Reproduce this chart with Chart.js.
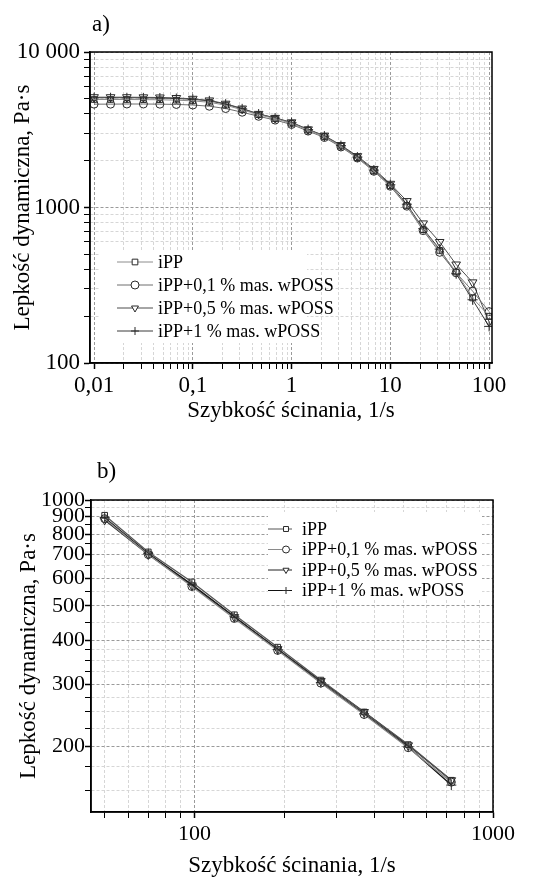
<!DOCTYPE html>
<html lang="pl">
<head>
<meta charset="utf-8">
<title>Lepkość dynamiczna</title>
<script src="https://cdn.jsdelivr.net/npm/chart.js@4/dist/chart.umd.min.js"></script>
<style>
  html, body { margin: 0; padding: 0; background: #fff; }
  #page { position: relative; width: 549px; height: 877px; overflow: hidden; }
  canvas { position: absolute; left: 0; }
  #chartA { top: 0; }
  #chartB { top: 430px; }
  .panel-label {
    position: absolute;
    font-family: 'Liberation Serif', 'Times New Roman', serif;
    font-size: 23px;
    line-height: 23px;
    color: #000;
  }
</style>
</head>
<body>
<div id="page">
  <canvas id="chartA" width="549" height="430"></canvas>
  <canvas id="chartB" width="549" height="447"></canvas>
  <div class="panel-label" style="left:92px; top:12px;">a)</div>
  <div class="panel-label" style="left:97px; top:459px;">b)</div>
</div>
<script>
// ---- dane: wykres a) ----
const seriesNames = ["iPP", "iPP+0,1 % mas. wPOSS", "iPP+0,5 % mas. wPOSS", "iPP+1 % mas. wPOSS"];

const shearA = [0.01, 0.0147, 0.0215, 0.0316, 0.0464, 0.0681, 0.1, 0.147, 0.215, 0.316, 0.464, 0.681,
                1, 1.47, 2.15, 3.16, 4.64, 6.81, 10, 14.7, 21.5, 31.6, 46.4, 68.1, 100];
const ippA  = [4950, 4950, 4950, 4940, 4930, 4900, 4850, 4750, 4550, 4250, 3950, 3730,
               3480, 3150, 2860, 2480, 2090, 1720, 1380, 1030, 720, 530, 385, 262, 200];
const poss01A = [4620, 4620, 4630, 4630, 4620, 4600, 4560, 4480, 4330, 4100, 3860, 3650,
                 3420, 3100, 2820, 2450, 2080, 1710, 1370, 1020, 710, 515, 380, 290, 214];
const poss05A = [5120, 5120, 5120, 5110, 5100, 5060, 5000, 4880, 4650, 4330, 4000, 3770,
                 3530, 3180, 2900, 2520, 2140, 1770, 1420, 1100, 790, 600, 430, 330, 184];
const poss1A  = [5080, 5080, 5080, 5070, 5060, 5020, 4960, 4850, 4620, 4310, 3990, 3760,
                 3510, 3170, 2880, 2500, 2110, 1740, 1400, 1050, 730, 540, 375, 255, 172];

const xTicksA = [0.01, 0.1, 1, 10, 100];
const xLabelsA = ["0,01", "0,1", "1", "10", "100"];
const yTicksA = [100, 1000, 10000];
const yLabelsA = ["100", "1000", "10 000"];

// ---- dane: wykres b) ----
const shearB = [50, 70, 98, 136, 190, 265, 370, 520, 725];
const ippB    = [905, 712, 585, 472, 382, 308, 250, 202, 160];
const poss01B = [885, 700, 568, 461, 374, 302, 246, 198, 158];
const poss05B = [878, 700, 572, 465, 377, 306, 250, 201, 160];
const poss1B  = [890, 705, 575, 466, 376, 303, 247, 199, 155];

const xTicksB = [100, 1000];
const xLabelsB = ["100", "1000"];
const xMinorB = [50, 60, 70, 80, 90, 200, 300, 400, 500, 600, 700, 800, 900];
const yTicksB = [200, 300, 400, 500, 600, 700, 800, 900, 1000];
const yLabelsB = ["200", "300", "400", "500", "600", "700", "800", "900", "1000"];
const yMinorB = [150, 175, 225, 250, 275, 325, 350, 375, 450, 550, 650, 750, 850, 950];

Chart.defaults.font.family = "'Liberation Serif', 'Times New Roman', serif";
Chart.defaults.color = "#000";

// podziałki pośrednie 2..9 w każdej dekadzie
function decadeMinors(majors) {
    const out = [];
    for (let i = 0; i < majors.length - 1; i++) {
        for (let m = 2; m <= 9; m++) out.push(majors[i] * m);
    }
    return out;
}

function isMajor(v, majors) {
    return majors.some(t => Math.abs(v / t - 1) < 1e-6);
}

function logAxis(min, max, majors, labels, minors, o) {
    const all = majors.concat(minors).filter(v => v >= min * 0.999 && v <= max * 1.001).sort((a, b) => a - b);
    return {
        type: "logarithmic",
        min: min,
        max: max,
        afterBuildTicks: scale => { scale.ticks = all.map(v => ({ value: v })); },
        afterFit: scale => {
            if (o.width) scale.width = o.width;
            if (o.height) scale.height = o.height;
        },
        ticks: {
            autoSkip: false,
            maxRotation: 0,
            padding: o.tickPad,
            font: { size: o.tickSize },
            color: "#000",
            callback: v => {
                const i = majors.findIndex(t => Math.abs(v / t - 1) < 1e-6);
                return i >= 0 ? labels[i] : "";
            }
        },
        grid: {
            color: ctx => (ctx.tick && isMajor(ctx.tick.value, majors)) ? "#9a9a9a" : "#d6d6d6",
            lineWidth: 1,
            tickColor: "#000",
            tickLength: 6,
            tickWidth: ctx => (ctx.tick && isMajor(ctx.tick.value, majors)) ? 1.5 : 1
        },
        border: { color: "#000", width: 1.5, dash: [3, 2] },
        title: {
            display: true,
            text: o.title,
            font: { size: 23, lineHeight: 1 },
            color: "#000",
            padding: o.titlePad
        }
    };
}

const frame = {
    id: "frame",
    afterDraw(chart) {
        const { ctx, chartArea: a } = chart;
        ctx.save();
        ctx.strokeStyle = "#000";
        ctx.lineWidth = 1.5;
        ctx.strokeRect(a.left, a.top, a.right - a.left, a.bottom - a.top);
        ctx.restore();
    }
};

function boxLegend(cfg) {
    return {
        id: "boxLegend",
        beforeDatasetsDraw(chart) {
            const ctx = chart.ctx;
            ctx.save();
            ctx.fillStyle = "#fff";
            ctx.fillRect(cfg.box[0], cfg.box[1], cfg.box[2], cfg.box[3]);
            ctx.restore();
        },
        afterDatasetsDraw(chart) {
            const ctx = chart.ctx;
            ctx.save();
            chart.data.datasets.forEach((ds, i) => {
                const y = cfg.y + i * cfg.step;
                ctx.strokeStyle = ds.borderColor;
                ctx.lineWidth = 1;
                ctx.setLineDash([]);
                ctx.beginPath();
                ctx.moveTo(cfg.lineX0, y);
                ctx.lineTo(cfg.lineX1, y);
                ctx.stroke();
                ctx.strokeStyle = ds.pointBorderColor;
                ctx.fillStyle = "#fff";
                ctx.lineWidth = 1;
                Chart.helpers.drawPoint(ctx, {
                    pointStyle: ds.pointStyle,
                    rotation: ds.pointRotation || 0,
                    radius: cfg.radius,
                    borderWidth: 1
                }, cfg.markX, y);
                ctx.fillStyle = "#000";
                ctx.font = cfg.fontSize + "px 'Liberation Serif', 'Times New Roman', serif";
                ctx.textBaseline = "middle";
                ctx.textAlign = "left";
                ctx.fillText(ds.label, cfg.textX, y + 1);
            });
            ctx.restore();
        }
    };
}

function makeSets(xs, ys, lineColors, width) {
    const styles = ["rect", "circle", "triangle", "cross"];
    const rot = [0, 0, 180, 0];
    const rad = [4, 4, 5, 5];
    return ys.map((vals, i) => ({
        label: seriesNames[i],
        data: vals.map((v, k) => ({ x: xs[k], y: v })),
        borderColor: lineColors[i],
        borderWidth: width,
        pointStyle: styles[i],
        pointRotation: rot[i],
        pointRadius: rad[i],
        pointBorderColor: "#2a2a2a",
        pointBackgroundColor: "rgba(255,255,255,0)",
        pointBorderWidth: 1,
        tension: 0
    }));
}

new Chart(document.getElementById("chartA"), {
    type: "line",
    data: {
        datasets: makeSets(shearA, [ippA, poss01A, poss05A, poss1A],
            ["#8c8c8c", "#6e6e6e", "#4d4d4d", "#3a3a3a"], 1)
    },
    options: {
        responsive: false,
        animation: false,
        devicePixelRatio: 1,
        layout: { padding: { top: 52, right: 57, left: 0, bottom: 0 } },
        plugins: { legend: { display: false }, tooltip: { enabled: false } },
        scales: {
            x: logAxis(0.0091, 107, xTicksA, xLabelsA, decadeMinors(xTicksA),
                { height: 67, tickPad: 3, tickSize: 23, title: "Szybkość ścinania, 1/s", titlePad: { top: 0, bottom: 8 } }),
            y: logAxis(100, 10000, yTicksA, yLabelsA, decadeMinors(yTicksA),
                { width: 90, tickPad: 4, tickSize: 23, title: "Lepkość dynamiczna, Pa·s", titlePad: { top: 11, bottom: 0 } })
        }
    },
    plugins: [frame, boxLegend({
        box: [100, 250, 207, 93], y: 262, step: 23, lineX0: 117, lineX1: 153, markX: 135,
        textX: 158, radius: 4, fontSize: 18
    })]
});

new Chart(document.getElementById("chartB"), {
    type: "line",
    data: {
        datasets: makeSets(shearB, [ippB, poss01B, poss05B, poss1B],
            ["#555555", "#8a8a8a", "#222222", "#111111"], 1.3)
    },
    options: {
        responsive: false,
        animation: false,
        devicePixelRatio: 1,
        layout: { padding: { top: 70, right: 56, left: 0, bottom: 0 } },
        plugins: { legend: { display: false }, tooltip: { enabled: false } },
        scales: {
            x: logAxis(45, 1000, xTicksB, xLabelsB, xMinorB,
                { height: 65, tickPad: 3, tickSize: 22, title: "Szybkość ścinania, 1/s", titlePad: { top: 0, bottom: 0 } }),
            y: logAxis(130, 1000, yTicksB, yLabelsB, yMinorB,
                { width: 91, tickPad: 0, tickSize: 22, title: "Lepkość dynamiczna, Pa·s", titlePad: { top: 17, bottom: 0 } })
        }
    },
    plugins: [frame, boxLegend({
        box: [268, 82, 214, 88], y: 99, step: 20.5, lineX0: 268, lineX1: 292, markX: 286,
        textX: 302, radius: 3.5, fontSize: 18
    })]
});
</script>
</body>
</html>
